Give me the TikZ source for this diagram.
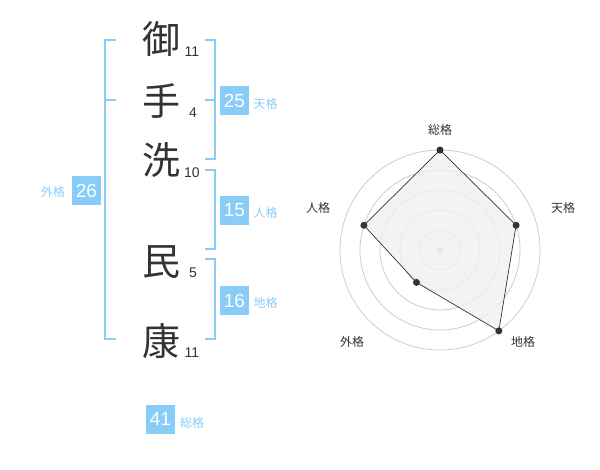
\documentclass[tikz,border=0pt]{standalone}
\usepackage{fontspec}
\setmainfont{Liberation Sans}
\newfontfamily\cjk{Noto Sans CJK JP}
\definecolor{sky}{HTML}{88CCF8}
\definecolor{ink}{HTML}{333333}
\definecolor{ring}{HTML}{CCCCCC}
\definecolor{area}{HTML}{F0F0F0}
\begin{document}
\begin{tikzpicture}[x=1pt,y=-1pt,
  bigchar/.style={font=\cjk\fontsize{38}{38}\selectfont, text=ink, inner sep=0pt},
  stroke/.style={font=\fontsize{14}{14}\selectfont, text=ink, inner sep=0pt},
  numbox/.style={fill=sky, text=white, minimum width=29pt, minimum height=29pt, inner sep=0pt, font=\fontsize{19}{19}\selectfont},
  kaku/.style={font=\cjk\fontsize{12}{12}\selectfont, text=sky, inner sep=0pt},
  brk/.style={draw=sky, line width=2pt},
  axlabel/.style={font=\cjk\fontsize{12}{12}\selectfont, text=ink, inner sep=0pt},
  ringline/.style={draw=ring, line width=0.8pt},
  pt/.style={circle, fill=ink, minimum size=7pt, inner sep=0pt}]
\useasboundingbox (0,0) rectangle (600,470);
% characters
\node[bigchar] (c1) at (161,39) {御};
\node[bigchar] (c2) at (161,101) {手};
\node[bigchar] (c3) at (161,160) {洗};
\node[bigchar] (c4) at (161,262) {民};
\node[bigchar] (c5) at (161,341) {康};
\node[stroke] (s1) at (192,52) {11};
\node[stroke] (s2) at (193,113) {4};
\node[stroke] (s3) at (192,173) {10};
\node[stroke] (s4) at (193,273) {5};
\node[stroke] (s5) at (192,353) {11};
% brackets
\draw[brk] (116,40) -- (105,40) -- (105,339) -- (116,339);
\draw[brk] (105,100) -- (116,100);
\draw[brk] (205,40) -- (215,40) -- (215,159) -- (205,159);
\draw[brk] (205,100) -- (215,100);
\draw[brk] (205,170) -- (215,170) -- (215,249) -- (205,249);
\draw[brk] (205,259) -- (215,259) -- (215,339) -- (205,339);
% boxes
\node[numbox] (b26) at (86.5,190.5) {26};
\node[kaku] (l26) at (53,192) {外格};
\node[numbox] (b25) at (234.5,100.5) {25};
\node[kaku] (l25) at (265.5,104) {天格};
\node[numbox] (b15) at (234.5,210.5) {15};
\node[kaku] (l15) at (265.5,213) {人格};
\node[numbox] (b16) at (234.5,300.5) {16};
\node[kaku] (l16) at (265.5,303) {地格};
\node[numbox] (b41) at (160.5,419) {41};
\node[kaku] (l41) at (192,423) {総格};
% radar
\coordinate (o) at (440,250);
\foreach \r in {20,40,60,80,100} \draw[ringline] (o) circle (\r);
\fill[ring] (o) circle (3.5);
\coordinate (pt1) at (440,150);
\coordinate (pt2) at (516.1,225.3);
\coordinate (pt3) at (498.8,330.9);
\coordinate (pt4) at (416.5,282.4);
\coordinate (pt5) at (363.9,225.3);
\draw[fill=area, fill opacity=0.8, draw=ink, line width=0.7pt] (pt1) -- (pt2) -- (pt3) -- (pt4) -- (pt5) -- cycle;
\foreach \p in {pt1,pt2,pt3,pt4,pt5} \node[pt] at (\p) {};
\node[axlabel] (a1) at (440,130) {総格};
\node[axlabel] (a2) at (563,208) {天格};
\node[axlabel] (a3) at (523,342) {地格};
\node[axlabel] (a4) at (352,342) {外格};
\node[axlabel] (a5) at (318,208) {人格};
\end{tikzpicture}
\end{document}
